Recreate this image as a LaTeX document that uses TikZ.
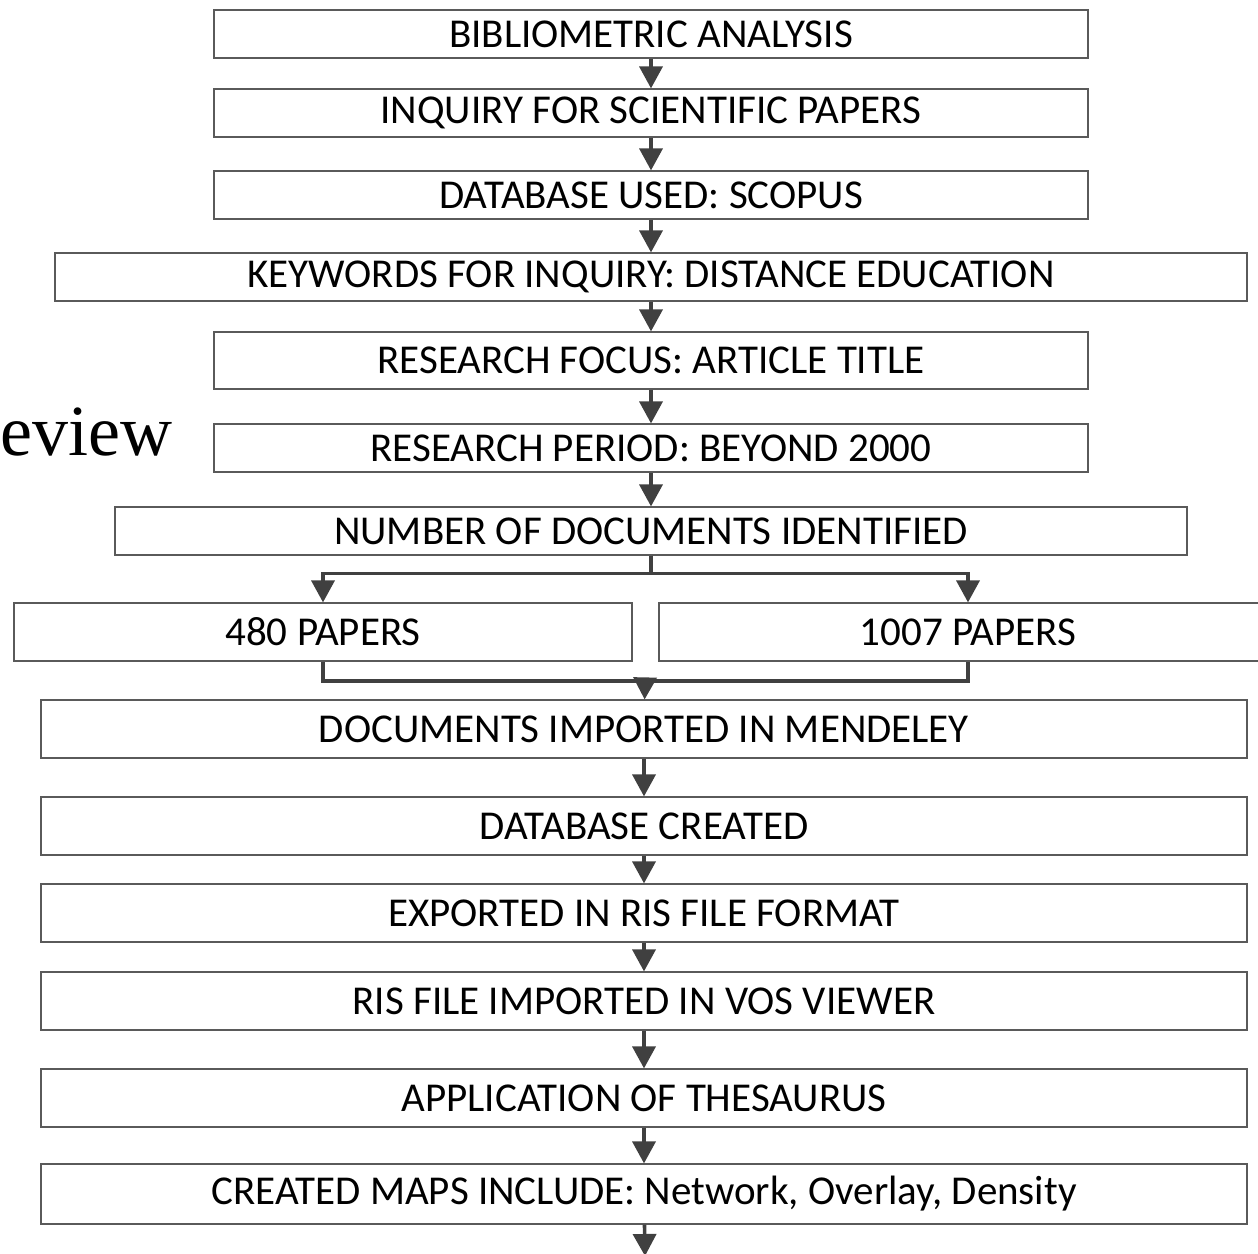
\documentclass[tikz,border=0pt]{standalone}
\usepackage{fontspec}
\setmainfont{Carlito}
\newfontfamily\timesface{Liberation Serif}
\usetikzlibrary{arrows.meta,positioning,calc}
\definecolor{boxgray}{HTML}{5A5A5A}
\definecolor{arrowgray}{HTML}{404040}

\begin{document}
\begin{tikzpicture}[x=0.5pt,y=-0.5pt,>={Triangle[width=11.5pt,length=11pt]},line cap=butt,
  stepbox/.style={draw=boxgray,line width=0.6pt,inner sep=0pt,align=center,
    font=\fontsize{20.5}{24}\selectfont,text=black},
  narrowbox/.style={stepbox,minimum width=437pt,minimum height=24pt},
  widebox/.style={stepbox,minimum width=603pt,minimum height=29pt},
  paperbox/.style={stepbox,minimum width=309pt,minimum height=29pt},
  flow/.style={->,arrowgray,line width=1.8pt}]
  \useasboundingbox (0,0) rectangle (1258,1253);

  % stray title fragment
  \node[font=\timesface\fontsize{36}{40}\selectfont,anchor=base west,inner sep=0pt] (title) at (0,455) {eview};

  % search steps
  \node[narrowbox] (biblio) at (651,34) {BIBLIOMETRIC ANALYSIS};
  \node[narrowbox] (inquiry) at (651,113) {INQUIRY FOR SCIENTIFIC PAPERS};
  \node[narrowbox] (database) at (651,195) {DATABASE USED: SCOPUS};
  \node[stepbox,minimum width=596pt,minimum height=24pt] (keywords) at (651,277) {KEYWORDS FOR INQUIRY: DISTANCE EDUCATION};
  \node[narrowbox,minimum height=28.5pt] (focus) at (651,360.5) {RESEARCH FOCUS: ARTICLE TITLE};
  \node[narrowbox] (period) at (651,448) {RESEARCH PERIOD: BEYOND 2000};
  \node[stepbox,minimum width=536pt,minimum height=24pt] (number) at (651,531) {NUMBER OF DOCUMENTS IDENTIFIED};

  % split
  \node[paperbox] (pfew) at (323,632) {480 PAPERS};
  \node[paperbox] (pmany) at (968,632) {1007 PAPERS};

  % processing steps
  \node[widebox] (mendeley) at (644,729) {DOCUMENTS IMPORTED IN MENDELEY};
  \node[widebox] (created) at (644,826) {DATABASE CREATED};
  \node[widebox] (exported) at (644,913) {EXPORTED IN RIS FILE FORMAT};
  \node[widebox] (vos) at (644,1001) {RIS FILE IMPORTED IN VOS VIEWER};
  \node[widebox] (thesaurus) at (644,1098) {APPLICATION OF THESAURUS};
  \node[widebox,minimum height=30pt] (maps) at (644,1194) {CREATED MAPS INCLUDE: Network, Overlay, Density};
  \coordinate (merge) at (645,681);
  \coordinate (tail) at (645,1256);

  % arrows
  \draw[flow] (biblio) -- (inquiry);
  \draw[flow] (inquiry) -- (database);
  \draw[flow] (database) -- (keywords);
  \draw[flow] (keywords) -- (focus);
  \draw[flow] (focus) -- (period);
  \draw[flow] (period) -- (number);
  \draw[flow] (number.south) -- ++(0,18) -| (pfew.north);
  \draw[flow] (number.south) -- ++(0,18) -| (pmany.north);
  \draw[arrowgray,line width=1.8pt] (pfew.south) |- (merge) -| (pmany.south);
  \draw[flow] (merge) -- (mendeley);
  \draw[flow] (mendeley) -- (created);
  \draw[flow] (created) -- (exported);
  \draw[flow] (exported) -- (vos);
  \draw[flow] (vos) -- (thesaurus);
  \draw[flow] (thesaurus) -- (maps);
  \draw[flow] (maps) -- (tail);
\end{tikzpicture}
\end{document}
